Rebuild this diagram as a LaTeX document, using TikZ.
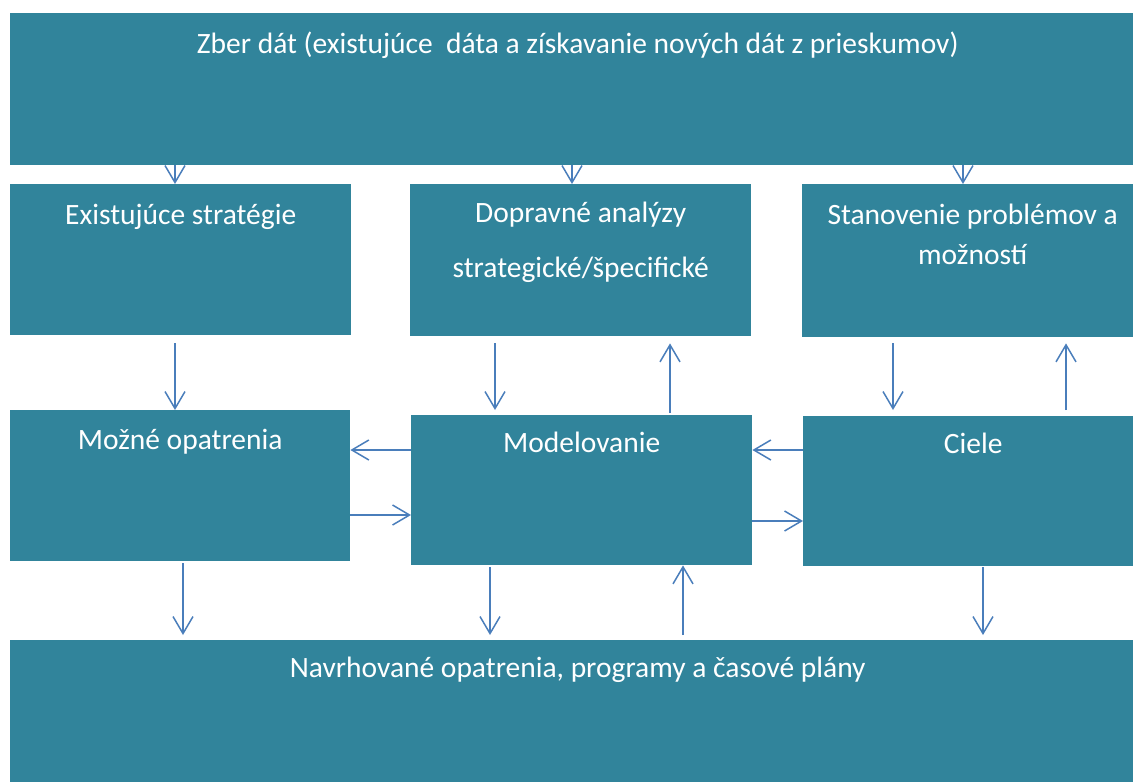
\documentclass[tikz,border=0pt]{standalone}
\usepackage{fontspec}
\setmainfont{Carlito}
\usetikzlibrary{arrows.meta,positioning}

\definecolor{boxteal}{HTML}{31849B}
\definecolor{flowblue}{HTML}{4A7EBB}

\tikzset{
  block/.style={fill=boxteal, anchor=north west, inner sep=0pt},
  caption/.style={text=white, font=\fontsize{29.5}{36}\selectfont, align=center, inner sep=0pt},
  flow/.style={draw=flowblue, line width=1.5pt,
    -{Straight Barb[length=17pt,width=20pt,line width=1.5pt]}},
}

\begin{document}
\begin{tikzpicture}[x=1pt,y=-1pt]
  \useasboundingbox (0,0) rectangle (1133,782);

  % blocks
  \node [block, minimum width=1123pt, minimum height=152pt] (zber) at (10,13) {};
  \node [block, minimum width=341pt, minimum height=151pt] (exist) at (10,184) {};
  \node [block, minimum width=341pt, minimum height=152pt] (dopr) at (410,184) {};
  \node [block, minimum width=331pt, minimum height=153pt] (stan) at (802,184) {};
  \node [block, minimum width=340pt, minimum height=151pt] (mozne) at (10,410) {};
  \node [block, minimum width=341pt, minimum height=150pt] (model) at (411,415) {};
  \node [block, minimum width=330pt, minimum height=150pt] (ciele) at (803,416) {};
  \node [block, minimum width=1123pt, minimum height=142pt] (navrh) at (10,640) {};

  % captions
  \node [caption, below=19pt of zber.north, xshift=6pt] (zbertext) {Zber dát (existujúce~ dáta a získavanie nových dát z prieskumov)};
  \node [caption, below=20pt of exist.north] (existtext) {Existujúce stratégie};
  \node [caption, below=18pt of dopr.north] (doprtext) {Dopravné analýzy\\[19pt]strategické/špecifické};
  \node [caption, below=20pt of stan.north, xshift=5pt] (stantext) {Stanovenie problémov a\\[4pt]možností};
  \node [caption, below=19pt of mozne.north] (moznetext) {Možné opatrenia};
  \node [caption, below=17pt of model.north] (modeltext) {Modelovanie};
  \node [caption, below=17pt of ciele.north, xshift=5pt] (cieletext) {Ciele};
  \node [caption, below=17pt of navrh.north, xshift=6pt] (navrhtext) {Navrhované opatrenia, programy a časové plány};

  % arrows from the data collection
  \draw [flow] (zber.south -| 175,0) -- (exist.north -| 175,0);
  \draw [flow] (zber.south -| 572,0) -- (dopr.north -| 572,0);
  \draw [flow] (zber.south -| 963,0) -- (stan.north -| 963,0);

  % middle row
  \draw [flow, shorten <=8pt] (exist.south -| 175,0) -- (mozne.north -| 175,0);
  \draw [flow, shorten <=7pt, shorten >=5pt] (dopr.south -| 495,0) -- (model.north -| 495,0);
  \draw [flow, shorten <=2pt, shorten >=7pt] (model.north -| 670,0) -- (dopr.south -| 670,0);
  \draw [flow, shorten <=6pt, shorten >=6pt] (stan.south -| 893,0) -- (ciele.north -| 893,0);
  \draw [flow, shorten <=6pt, shorten >=6pt] (ciele.north -| 1066,0) -- (stan.south -| 1066,0);

  % sideways
  \draw [flow] (model.west |- 0,450) -- (mozne.east |- 0,450);
  \draw [flow] (mozne.east |- 0,515) -- (model.west |- 0,515);
  \draw [flow] (ciele.west |- 0,450) -- (model.east |- 0,450);
  \draw [flow] (model.east |- 0,521) -- (ciele.west |- 0,521);

  % down to the proposals
  \draw [flow, shorten <=2pt, shorten >=5pt] (mozne.south -| 183,0) -- (navrh.north -| 183,0);
  \draw [flow, shorten <=2pt, shorten >=5pt] (model.south -| 490,0) -- (navrh.north -| 490,0);
  \draw [flow, shorten <=5pt] (navrh.north -| 683,0) -- (model.south -| 683,0);
  \draw [flow, shorten <=1pt, shorten >=5pt] (ciele.south -| 983,0) -- (navrh.north -| 983,0);
\end{tikzpicture}
\end{document}
